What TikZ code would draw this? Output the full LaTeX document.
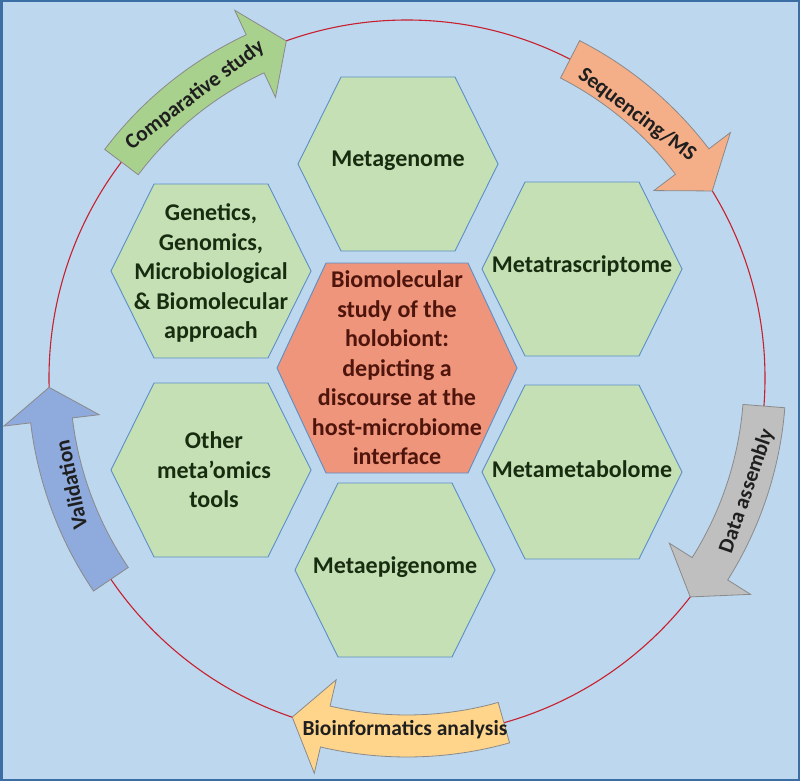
\documentclass[tikz,border=0pt]{standalone}
\usepackage{fontspec}
\setmainfont{Carlito}
\usetikzlibrary{calc}
\definecolor{bgblue}{HTML}{BDD7EE}
\definecolor{framebl}{HTML}{3A6EA5}
\definecolor{ringred}{HTML}{C8202E}
\definecolor{hexgreen}{HTML}{C5E0B4}
\definecolor{hexline}{HTML}{5B8FC7}
\definecolor{hexred}{HTML}{EE957B}
\definecolor{txtgreen}{HTML}{182C10}
\definecolor{txtred}{HTML}{4F150C}
\definecolor{arrline}{HTML}{8A8A8A}
\definecolor{agreen}{HTML}{A9D18E}
\definecolor{asalmon}{HTML}{F4AE88}
\definecolor{agrey}{HTML}{BFBFBF}
\definecolor{agold}{HTML}{FFD58C}
\definecolor{ablue}{HTML}{8FAADC}
\tikzset{
  hexbox/.style={fill=hexgreen, draw=hexline, line width=0.9pt, line join=miter},
  hexcore/.style={fill=hexred, draw=hexline, line width=0.9pt, line join=miter},
  hextxt/.style={font=\fontsize{24pt}{29.5pt}\selectfont\bfseries, text=txtgreen, align=center, inner sep=0pt},
  coretxt/.style={font=\fontsize{24pt}{29.5pt}\selectfont\bfseries, text=txtred, align=center, inner sep=0pt},
  arrtxt/.style={font=\fontsize{21.5pt}{25pt}\selectfont\bfseries, text=black!88, inner sep=0pt},
  arrbody/.style={draw=arrline, line width=0.8pt, line join=miter}
}
% hexagon: name, style, cx, cy, R, t, h
\newcommand\hexagon[7]{%
  \begin{scope}[shift={(#3,#4)}]
    \draw[#2] (-#5,0) -- (-#6,#7) -- (#6,#7) -- (#5,0) -- (#6,-#7) -- (-#6,-#7) -- cycle;
    \coordinate (#1) at (0,0);
  \end{scope}}
% curved arrow along the ring: fill colour, tail angle, head-base angle, tip angle
\newcommand\ringarrow[4]{%
  \filldraw[arrbody, fill=#1]
    (#2:379pt) arc[start angle=#2, end angle=#3, radius=379pt]
    -- (#3:406pt) -- (#4:358pt) -- (#3:310pt) -- (#3:337pt)
    arc[start angle=#3, end angle=#2, radius=337pt] -- cycle;}
\begin{document}
\begin{tikzpicture}[x=1pt, y=1pt]
  \useasboundingbox (0,0) rectangle (800,-781);
  \fill[bgblue] (0,0) rectangle (800,-781);
  \draw[framebl, line width=2.5pt] (1.25,-1.25) rectangle (798.75,-779.75);

  % ring
  \coordinate (ringc) at (407,-378);
  \draw[ringred, line width=1.1pt] (ringc) circle[radius=358pt];

  % arrows
  \begin{scope}[shift={(ringc)}]
    \ringarrow{agreen}{142.9}{115.1}{109.7}
    \ringarrow{asalmon}{62.9}{37.2}{31.5}
    \ringarrow{agrey}{-4.5}{-32.2}{-37.7}
    \ringarrow{agold}{-74.3}{-103.2}{-108.7}
    \ringarrow{ablue}{-145.8}{-173.2}{-178.5}
  \end{scope}
  \node[arrtxt, rotate=37] (tcomp) at (195,-95) {Comparative study};
  \node[arrtxt, rotate=-37] (tseq) at (637,-115) {Sequencing/MS};
  \node[arrtxt, rotate=71] (tdata) at (747,-491) {Data assembly};
  \node[arrtxt] (tbio) at (405,-730) {Bioinformatics analysis};
  \node[arrtxt, rotate=102] (tval) at (71,-485) {Validation};

  % hexagons
  \hexagon{hmg}{hexbox}{398}{-164}{100}{57}{87}
  \hexagon{hgen}{hexbox}{211}{-271}{100}{57}{87}
  \hexagon{hmt}{hexbox}{582}{-269}{100}{57}{87}
  \hexagon{hoth}{hexbox}{211}{-470}{100}{57}{87}
  \hexagon{hmm}{hexbox}{582}{-472}{100}{57}{87}
  \hexagon{hme}{hexbox}{395}{-570}{100}{57}{87}
  \hexagon{hcore}{hexcore}{397}{-368}{120}{71}{105}

  \node[hextxt] (tmg) at ($(hmg)+(0,3)$) {Metagenome};
  \node[hextxt] (tgen) at ($(hgen)+(0,-2)$) {Genetics,\\Genomics,\\Microbiological\\\& Biomolecular\\approach};
  \node[hextxt] (tmt) at ($(hmt)+(0,3)$) {Metatrascriptome};
  \node[hextxt] (toth) at ($(hoth)+(3,0)$) {Other\\meta’omics\\tools};
  \node[hextxt] (tmm) at ($(hmm)+(0,3)$) {Metametabolome};
  \node[hextxt] (tme) at ($(hme)+(0,3)$) {Metaepigenome};
  \node[coretxt] (tcore) at (hcore) {Biomolecular\\study of the\\holobiont:\\depicting a\\discourse at the\\host-microbiome\\interface};
\end{tikzpicture}
\end{document}
